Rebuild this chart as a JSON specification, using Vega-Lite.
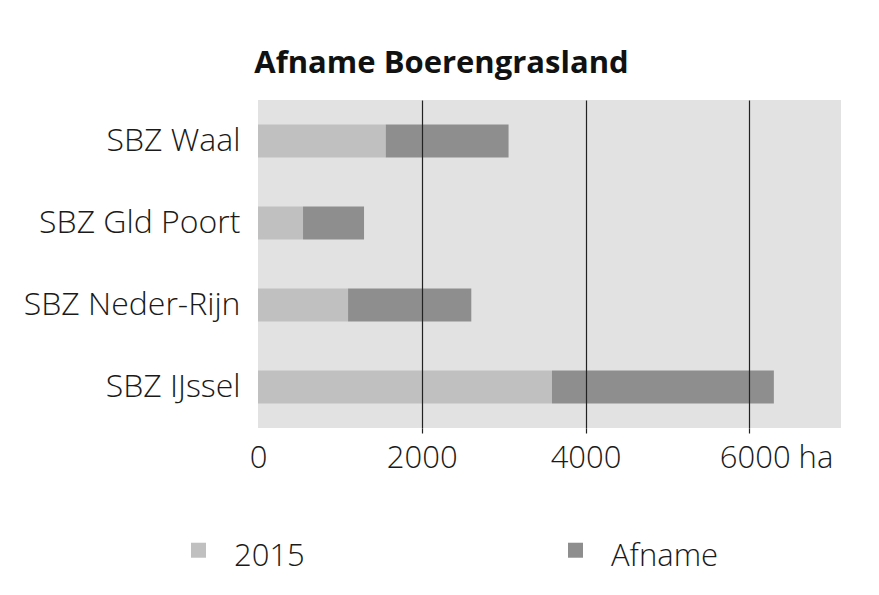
{
  "$schema": "https://vega.github.io/schema/vega-lite/v6.json",
  "autosize": {"type": "none"},
  "padding": {"left": 258, "top": 100, "right": 38, "bottom": 167},
  "width": 583,
  "height": 328,
  "background": "white",
  "title": {
    "text": "Afname Boerengrasland",
    "font": "Open Sans",
    "fontSize": 31,
    "fontWeight": "bold",
    "color": "#111111",
    "anchor": "middle",
    "dx": -108,
    "offset": 20
  },
  "data": {
    "values": [
      {"gebied": "SBZ Waal", "serie": "2015", "ha": 1560},
      {"gebied": "SBZ Waal", "serie": "Afname", "ha": 1500},
      {"gebied": "SBZ Gld Poort", "serie": "2015", "ha": 550},
      {"gebied": "SBZ Gld Poort", "serie": "Afname", "ha": 745},
      {"gebied": "SBZ Neder-Rijn", "serie": "2015", "ha": 1100},
      {"gebied": "SBZ Neder-Rijn", "serie": "Afname", "ha": 1505},
      {"gebied": "SBZ IJssel", "serie": "2015", "ha": 3590},
      {"gebied": "SBZ IJssel", "serie": "Afname", "ha": 2710}
    ]
  },
  "mark": {"type": "bar"},
  "encoding": {
    "y": {
      "field": "gebied",
      "type": "nominal",
      "sort": ["SBZ Waal", "SBZ Gld Poort", "SBZ Neder-Rijn", "SBZ IJssel"],
      "scale": {"paddingInner": 0.6, "paddingOuter": 0.3},
      "axis": {
        "title": null,
        "domain": false,
        "ticks": false,
        "grid": false,
        "labelFont": "Open Sans",
        "labelFontWeight": 300,
        "labelFontSize": 32,
        "labelColor": "#1a1a1a",
        "labelPadding": 18,
        "labelLimit": 300
      }
    },
    "x": {
      "field": "ha",
      "type": "quantitative",
      "stack": "zero",
      "scale": {"domain": [0, 7120], "nice": false},
      "axis": {
        "title": null,
        "values": [0, 2000, 4000, 6000],
        "format": "d",
        "labelExpr": "datum.value == 6000 ? '6000 ha' : datum.label",
        "labelFlush": false,
        "labelFont": "Open Sans",
        "labelFontWeight": 300,
        "labelFontSize": 31,
        "labelColor": "#1a1a1a",
        "labelAlign": {"condition": {"test": "datum.value == 6000", "value": "left"}, "value": "center"},
        "labelOffset": {"condition": {"test": "datum.value == 6000", "value": -30}, "value": 0},
        "labelPadding": 10,
        "domain": false,
        "tickSize": 5,
        "tickColor": {"condition": {"test": "datum.value == 0", "value": "transparent"}, "value": "#222222"},
        "tickWidth": 1.2,
        "grid": true,
        "gridColor": {"condition": {"test": "datum.value == 0", "value": "transparent"}, "value": "#222222"},
        "gridWidth": 1.2,
        "gridOpacity": 1,
        "zindex": 1
      }
    },
    "color": {
      "field": "serie",
      "type": "nominal",
      "scale": {"domain": ["2015", "Afname"], "range": ["#c0c0c0", "#8e8e8e"]},
      "legend": {
        "title": null,
        "orient": "none",
        "direction": "horizontal",
        "legendX": -75,
        "legendY": 441,
        "symbolType": "M-1,-1.87H1V0.13H-1Z",
        "symbolSize": 225,
        "symbolStrokeWidth": 0,
        "labelOffset": 20,
        "labelFont": "Open Sans",
        "labelFontWeight": 300,
        "labelFontSize": 31,
        "labelColor": "#1a1a1a",
        "labelLimit": 300,
        "columnPadding": 255
      }
    },
    "order": {"field": "serie", "sort": "ascending"}
  },
  "config": {
    "view": {"fill": "#e2e2e2", "stroke": null}
  }
}
